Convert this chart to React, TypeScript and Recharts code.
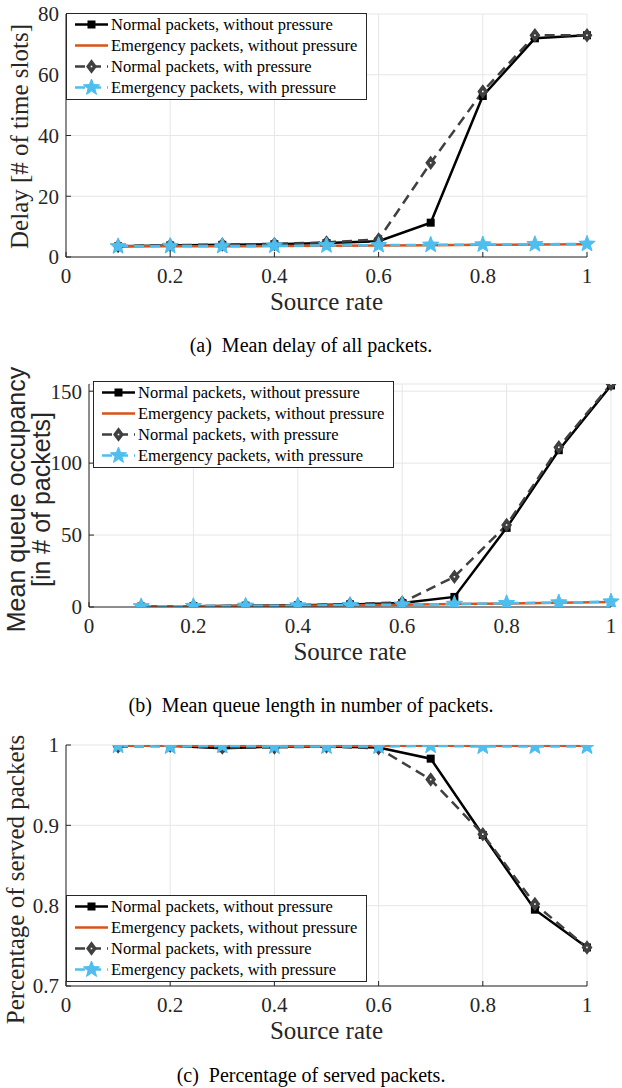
import React from "react";
import { LineChart, Line, XAxis, YAxis, CartesianGrid, Legend, Label } from "recharts";

// source rate (x) for every curve
const sourceRate = [0.1, 0.2, 0.3, 0.4, 0.5, 0.6, 0.7, 0.8, 0.9, 1.0];
const xTicks = [0, 0.2, 0.4, 0.6, 0.8, 1];

// (a) mean delay [# of time slots]
const delayNormal = [3.5, 3.8, 4.0, 4.2, 4.6, 5.2, 11.3, 53, 72, 73];
const delayEmergency = [3.5, 3.5, 3.5, 3.6, 3.7, 3.8, 3.9, 4.0, 4.1, 4.2];
const delayNormalP = [3.6, 3.9, 4.1, 4.3, 4.8, 5.8, 31, 54.5, 73, 73];
const delayEmergencyP = [3.5, 3.6, 3.6, 3.7, 3.8, 3.9, 4.0, 4.1, 4.2, 4.3];
const delayTicks = [0, 20, 40, 60, 80];

// (b) mean queue occupancy [# of packets]
const queueNormal = [0.3, 0.6, 0.9, 1.2, 1.8, 2.8, 7, 55, 109, 154];
const queueEmergency = [0.3, 0.5, 0.7, 0.9, 1.2, 1.5, 2.0, 2.5, 3.0, 3.5];
const queueNormalP = [0.3, 0.6, 0.9, 1.3, 2.0, 3.2, 21, 57, 111, 155];
const queueEmergencyP = [0.4, 0.6, 0.8, 1.0, 1.3, 1.6, 2.1, 2.6, 3.1, 3.7];
const queueTicks = [0, 50, 100, 150];

// (c) share of served packets
const servedNormal = [1.0, 0.999, 0.996, 0.998, 0.998, 0.997, 0.983, 0.888, 0.795, 0.748];
const servedEmergency = [0.999, 0.999, 0.999, 0.999, 0.999, 0.999, 0.999, 0.999, 0.999, 0.999];
const servedNormalP = [0.998, 0.999, 0.997, 0.997, 0.998, 0.996, 0.957, 0.889, 0.802, 0.748];
const servedEmergencyP = [0.999, 0.998, 0.999, 0.998, 0.998, 0.998, 0.999, 0.998, 0.998, 0.998];
const servedTicks = [0.7, 0.8, 0.9, 1];

const series = [
  { key: "normal", name: "Normal packets, without pressure", color: "#000000", dash: undefined, marker: "square" },
  { key: "emergency", name: "Emergency packets, without pressure", color: "#D95319", dash: undefined, marker: "none" },
  { key: "normalP", name: "Normal packets, with pressure", color: "#404040", dash: "10 6", marker: "diamond" },
  { key: "emergencyP", name: "Emergency packets, with pressure", color: "#4DBEEE", dash: "10 6", marker: "star" },
];

const toRows = (a: number[], b: number[], c: number[], d: number[]) =>
  sourceRate.map((x, i) => ({ x, normal: a[i], emergency: b[i], normalP: c[i], emergencyP: d[i] }));

const delayRows = toRows(delayNormal, delayEmergency, delayNormalP, delayEmergencyP);
const queueRows = toRows(queueNormal, queueEmergency, queueNormalP, queueEmergencyP);
const servedRows = toRows(servedNormal, servedEmergency, servedNormalP, servedEmergencyP);

const SERIF = "Liberation Serif, Times New Roman, serif";
const SANS = "Liberation Sans, Arial, sans-serif";
const AXIS = "#262626";

function Marker({ kind, cx, cy, color }: { kind: string; cx: number; cy: number; color: string }) {
  if (kind === "square") {
    return <rect x={cx - 4} y={cy - 4} width={8} height={8} fill={color} />;
  }
  if (kind === "diamond") {
    return (
      <g>
        <polygon
          points={`${cx},${cy - 6} ${cx + 4.5},${cy} ${cx},${cy + 6} ${cx - 4.5},${cy}`}
          fill={color}
          stroke={color}
          strokeWidth={1.5}
        />
        <rect x={cx - 0.8} y={cy - 0.8} width={1.6} height={1.6} fill="#fff" />
      </g>
    );
  }
  if (kind === "star") {
    const pts: string[] = [];
    for (let k = 0; k < 10; k++) {
      const r = k % 2 === 0 ? 8.5 : 3.6;
      const a = (-90 + k * 36) * (Math.PI / 180);
      pts.push(`${cx + r * Math.cos(a)},${cy + r * Math.sin(a)}`);
    }
    return <polygon points={pts.join(" ")} fill={color} stroke={color} strokeWidth={1} />;
  }
  return null;
}

const renderLegend = (props: any) => {
  const items = [...(props.payload || [])].sort(
    (a: any, b: any) =>
      series.findIndex((s) => s.key === a.dataKey) - series.findIndex((s) => s.key === b.dataKey)
  );
  return (
    <div
      style={{
        border: `1px solid ${AXIS}`,
        background: "#fff",
        width: 301,
        height: 87,
        boxSizing: "border-box",
      }}
    >
      {items.map((it: any) => {
        const s = series.find((d) => d.key === it.dataKey) || series[0];
        return (
          <div key={s.key} style={{ display: "flex", alignItems: "center", height: 21 }}>
            <svg width={44} height={21} style={{ flex: "none" }}>
              <line x1={8} x2={41} y1={10.5} y2={10.5} stroke={s.color} strokeWidth={2.5} strokeDasharray={s.dash} />
              <Marker kind={s.marker} cx={24.5} cy={10.5} color={s.color} />
            </svg>
            <span style={{ fontFamily: SERIF, fontSize: 16.5, color: "#000", lineHeight: "21px", whiteSpace: "nowrap" }}>
              {it.value}
            </span>
          </div>
        );
      })}
    </div>
  );
};

const fmt = (v: number) => String(v);

// tick label drawn as a plain svg text so the serif face is applied
const SerifTick = (props: any) => {
  const { x, y, payload, textAnchor, verticalAnchor } = props;
  const dy = verticalAnchor === "start" ? "0.71em" : verticalAnchor === "middle" ? "0.35em" : 0;
  return (
    <text
      x={x}
      y={y}
      dy={dy}
      textAnchor={textAnchor}
      fill={AXIS}
      fontSize={21}
      fontFamily={SERIF}
      style={{ fontFamily: SERIF }}
    >
      {fmt(payload.value)}
    </text>
  );
};

type PanelProps = {
  top: number;
  height: number;
  marginTop: number;
  marginRight: number;
  yAxisWidth: number;
  plotHeight: number;
  data: any[];
  yDomain: [number, number];
  yTicks: number[];
  yLabel: string[];
  yLabelX: number[];
  yLabelFont: string;
  yLabelShift: number;
  legendLeft: number;
  legendTop: number;
};

function Panel(p: PanelProps) {
  const xAxisHeight = 56;
  const bottom = p.height - p.marginTop - p.plotHeight - xAxisHeight;
  const yLabelContent = (props: any) => {
    const vb = props.viewBox;
    const cy = vb.y + vb.height / 2 + p.yLabelShift;
    return (
      <g>
        {p.yLabel.map((t, i) => (
          <text
            key={i}
            x={p.yLabelX[i]}
            y={cy}
            dy="0.35em"
            transform={`rotate(-90 ${p.yLabelX[i]} ${cy})`}
            textAnchor="middle"
            fontFamily={p.yLabelFont}
            fontSize={25}
            style={{ fontFamily: p.yLabelFont }}
            fill={AXIS}
          >
            {t}
          </text>
        ))}
      </g>
    );
  };
  const xLabelContent = (props: any) => {
    const vb = props.viewBox;
    return (
      <text
        x={vb.x + vb.width / 2}
        y={vb.y + vb.height - 3}
        textAnchor="middle"
        fontFamily={SERIF}
        fontSize={25}
        style={{ fontFamily: SERIF }}
        fill={AXIS}
      >
        Source rate
      </text>
    );
  };
  return (
    <div style={{ position: "absolute", left: 0, top: p.top }}>
      <LineChart
        width={622}
        height={p.height}
        data={p.data}
        margin={{ top: p.marginTop, right: p.marginRight, bottom, left: 0 }}
      >
        <CartesianGrid stroke="#e6e6e6" strokeWidth={1} />
        <XAxis
          dataKey="x"
          type="number"
          domain={[0, 1]}
          ticks={xTicks}
          height={xAxisHeight}
          tick={<SerifTick />}
          tickSize={-5}
          tickMargin={16}
          axisLine={{ stroke: AXIS }}
          tickLine={{ stroke: AXIS }}
          interval={0}
        >
          <Label content={xLabelContent} />
        </XAxis>
        <XAxis
          xAxisId="top"
          orientation="top"
          dataKey="x"
          type="number"
          domain={[0, 1]}
          ticks={xTicks}
          tickFormatter={() => ""}
          height={0}
          tickSize={-5}
          axisLine={{ stroke: AXIS }}
          tickLine={{ stroke: AXIS }}
          interval={0}
        />
        <YAxis
          type="number"
          domain={p.yDomain}
          ticks={p.yTicks}
          width={p.yAxisWidth}
          tick={<SerifTick />}
          tickSize={-5}
          tickMargin={12}
          axisLine={{ stroke: AXIS }}
          tickLine={{ stroke: AXIS }}
          interval={0}
          allowDataOverflow
        >
          <Label content={yLabelContent} />
        </YAxis>
        <YAxis
          yAxisId="right"
          orientation="right"
          type="number"
          domain={p.yDomain}
          ticks={p.yTicks}
          tickFormatter={() => ""}
          width={0}
          tickSize={-5}
          axisLine={{ stroke: AXIS }}
          tickLine={{ stroke: AXIS }}
          interval={0}
          allowDataOverflow
        />
        {series.map((s) => (
          <Line
            key={s.key}
            dataKey={s.key}
            name={s.name}
            stroke={s.color}
            strokeWidth={2.5}
            strokeDasharray={s.dash}
            isAnimationActive={false}
            dot={
              s.marker === "none"
                ? false
                : (d: any) => <Marker key={`${s.key}-${d.index}`} kind={s.marker} cx={d.cx} cy={d.cy} color={s.color} />
            }
            activeDot={false}
            legendType="line"
          />
        ))}
        <Legend
          layout="vertical"
          align="center"
          verticalAlign="middle"
          content={renderLegend}
          wrapperStyle={{ left: p.legendLeft, top: p.legendTop, width: 301, height: 87 }}
        />
      </LineChart>
    </div>
  );
}

const captionStyle = (top: number): React.CSSProperties => ({
  position: "absolute",
  left: 0,
  top,
  width: 622,
  textAlign: "center",
  fontFamily: SERIF,
  fontSize: 20,
  color: "#000",
  lineHeight: "22px",
  whiteSpace: "pre",
});

export default function App() {
  return (
    <div style={{ position: "absolute", left: 0, top: 0, width: 622, height: 1088, background: "#fff" }}>
      <Panel
        top={0}
        height={330}
        marginTop={14}
        marginRight={35}
        yAxisWidth={66}
        plotHeight={243}
        data={delayRows}
        yDomain={[0, 80]}
        yTicks={delayTicks}
        yLabel={["Delay [# of time slots]"]}
        yLabelX={[19]}
        yLabelFont={SERIF}
        yLabelShift={1}
        legendLeft={66}
        legendTop={13}
      />
      <div style={captionStyle(334)}>(a)  Mean delay of all packets.</div>
      <Panel
        top={360}
        height={330}
        marginTop={24}
        marginRight={11}
        yAxisWidth={89}
        plotHeight={223}
        data={queueRows}
        yDomain={[0, 155]}
        yTicks={queueTicks}
        yLabel={["Mean queue occupancy", "[in # of packets]"]}
        yLabelX={[16, 41]}
        yLabelFont={SANS}
        yLabelShift={4}
        legendLeft={93}
        legendTop={21}
      />
      <div style={captionStyle(694)}>(b)  Mean queue length in number of packets.</div>
      <Panel
        top={720}
        height={330}
        marginTop={25}
        marginRight={35}
        yAxisWidth={66}
        plotHeight={241}
        data={servedRows}
        yDomain={[0.7, 1]}
        yTicks={servedTicks}
        yLabel={["Percentage of served packets"]}
        yLabelX={[15]}
        yLabelFont={SERIF}
        yLabelShift={14}
        legendLeft={66}
        legendTop={175}
      />
      <div style={captionStyle(1064)}>(c)  Percentage of served packets.</div>
    </div>
  );
}
